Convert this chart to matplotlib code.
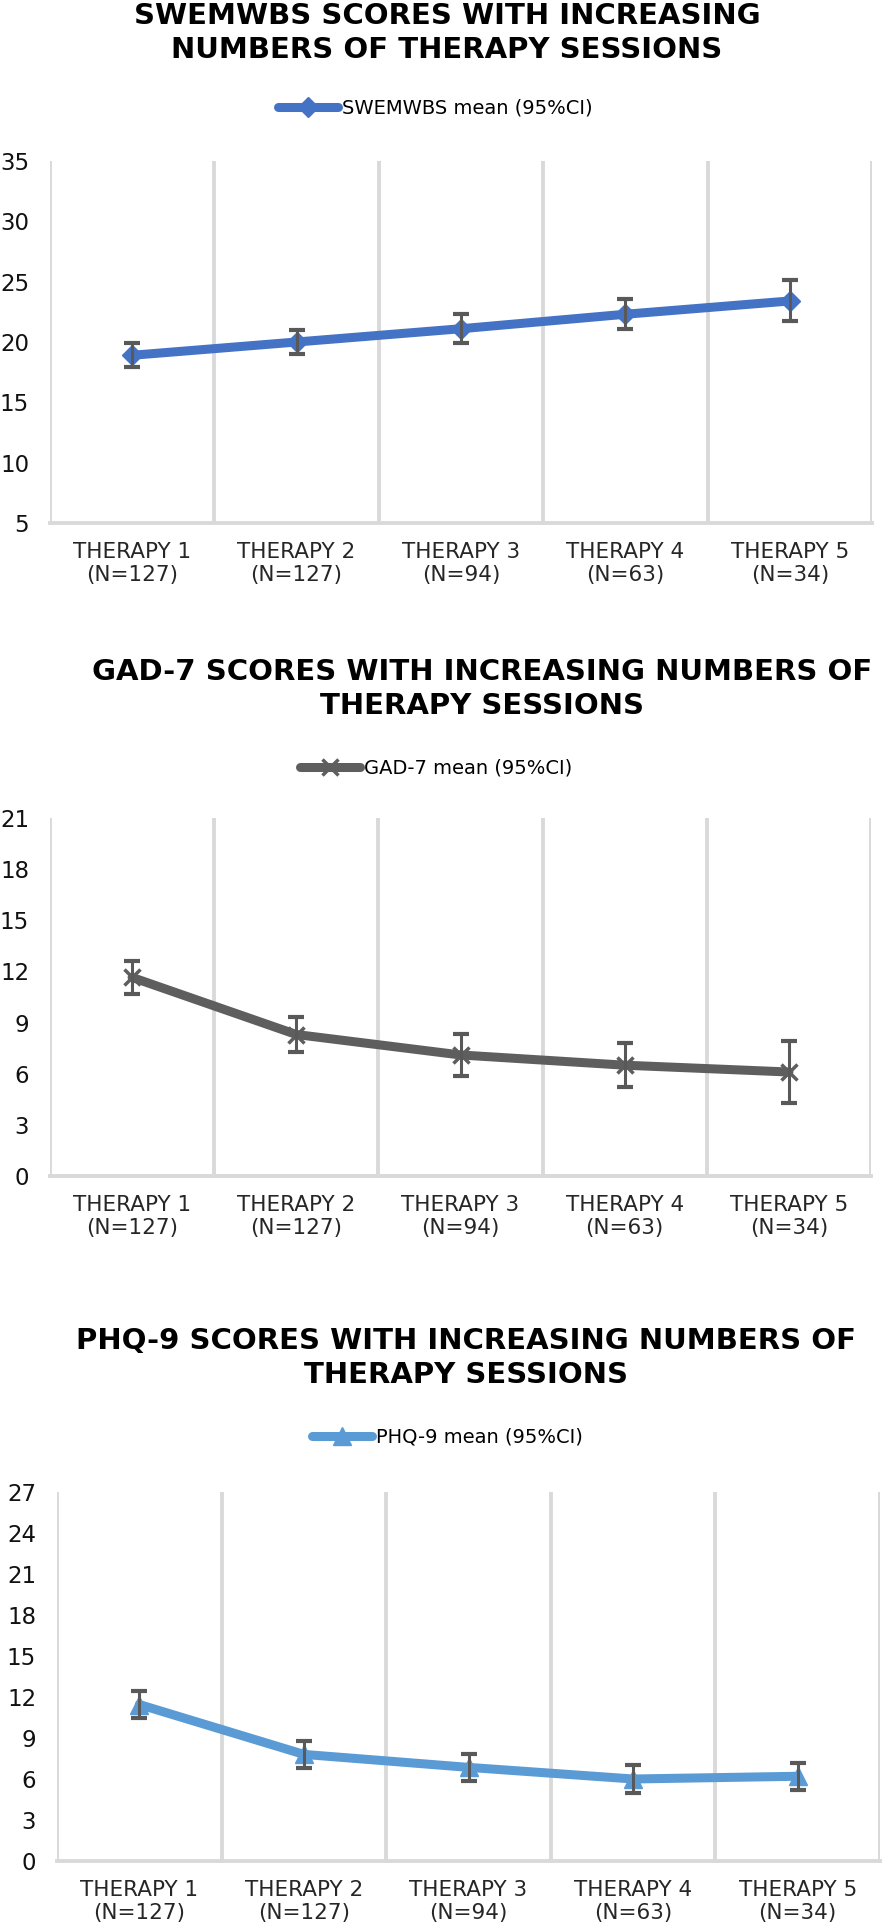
import matplotlib.pyplot as plt
import numpy as np

W, H = 888, 1928

sessions = ["THERAPY 1\n(N=127)", "THERAPY 2\n(N=127)", "THERAPY 3\n(N=94)",
            "THERAPY 4\n(N=63)", "THERAPY 5\n(N=34)"]

swemwbs_mean = [18.9, 20.0, 21.1, 22.3, 23.4]
swemwbs_ci = [1.0, 1.0, 1.2, 1.25, 1.7]

gad7_mean = [11.65, 8.3, 7.1, 6.5, 6.1]
gad7_ci = [0.95, 1.0, 1.25, 1.3, 1.8]

phq9_mean = [11.45, 7.8, 6.85, 6.0, 6.2]
phq9_ci = [1.0, 1.0, 1.0, 1.0, 1.0]

# pixel boxes: (left, right, top, bottom)
panels = [
    dict(title="SWEMWBS SCORES WITH INCREASING\nNUMBERS OF THERAPY SESSIONS",
         label="SWEMWBS mean (95%CI)", mean=swemwbs_mean, ci=swemwbs_ci,
         color="#4472C4", marker="D", ms=10, yticks=np.arange(5, 36, 5),
         box=(50, 872, 161, 523), title_xy=(447, 33), leg_xy=(278, 108)),
    dict(title="GAD-7 SCORES WITH INCREASING NUMBERS OF\nTHERAPY SESSIONS",
         label="GAD-7 mean (95%CI)", mean=gad7_mean, ci=gad7_ci,
         color="#5E5E5E", marker="x", ms=12, yticks=np.arange(0, 22, 3),
         box=(50, 871, 818, 1176), title_xy=(482, 689), leg_xy=(300, 768)),
    dict(title="PHQ-9 SCORES WITH INCREASING NUMBERS OF\nTHERAPY SESSIONS",
         label="PHQ-9 mean (95%CI)", mean=phq9_mean, ci=phq9_ci,
         color="#5B9BD5", marker="^", ms=13, yticks=np.arange(0, 28, 3),
         box=(57, 880, 1492, 1861), title_xy=(466, 1358), leg_xy=(312, 1437)),
]

fig = plt.figure(figsize=(W / 100, H / 100), dpi=100)

for p in panels:
    x0, x1, y0, y1 = p["box"]
    ax = fig.add_axes([x0 / W, 1 - y1 / H, (x1 - x0) / W, (y1 - y0) / H])
    x = np.arange(len(sessions))
    ax.plot(x, p["mean"], color=p["color"], lw=6.5, marker=p["marker"],
            ms=p["ms"], mew=2.5 if p["marker"] == "x" else 1,
            solid_capstyle="round", label=p["label"], zorder=3)
    ax.errorbar(x, p["mean"], yerr=p["ci"], fmt="none", ecolor="#595959",
                elinewidth=2.2, capsize=5.5, capthick=3, zorder=4)

    ax.set_xlim(-0.5, len(sessions) - 0.5)
    ax.set_ylim(p["yticks"][0], p["yticks"][-1])
    ax.set_yticks(p["yticks"])
    ax.set_yticklabels([str(v) for v in p["yticks"]], fontsize=16.5, color="#111111")
    ax.set_xticks(x)
    ax.set_xticklabels(sessions, fontsize=15.5, linespacing=1.18, color="#262626")
    for b in np.arange(-0.5, len(sessions), 1.0):
        ax.axvline(b, color="#D9D9D9", lw=2.8, zorder=1)
    for s in ["top", "right", "left"]:
        ax.spines[s].set_visible(False)
    ax.spines["bottom"].set_color("#D9D9D9")
    ax.spines["bottom"].set_linewidth(2.8)
    ax.tick_params(axis="x", length=0, pad=14)
    ax.tick_params(axis="y", length=0, pad=15)

    fig.text(p["title_xy"][0] / W, 1 - p["title_xy"][1] / H, p["title"],
             ha="center", va="center", fontsize=21, fontweight="bold",
             linespacing=1.3)
    ax.legend(loc="center left", bbox_to_anchor=(p["leg_xy"][0] / W, 1 - p["leg_xy"][1] / H),
              bbox_transform=fig.transFigure, frameon=False, handlelength=3.1,
              fontsize=14, handletextpad=0.2, borderpad=0, borderaxespad=0)

fig.savefig("out.png", dpi=100, facecolor="white")
